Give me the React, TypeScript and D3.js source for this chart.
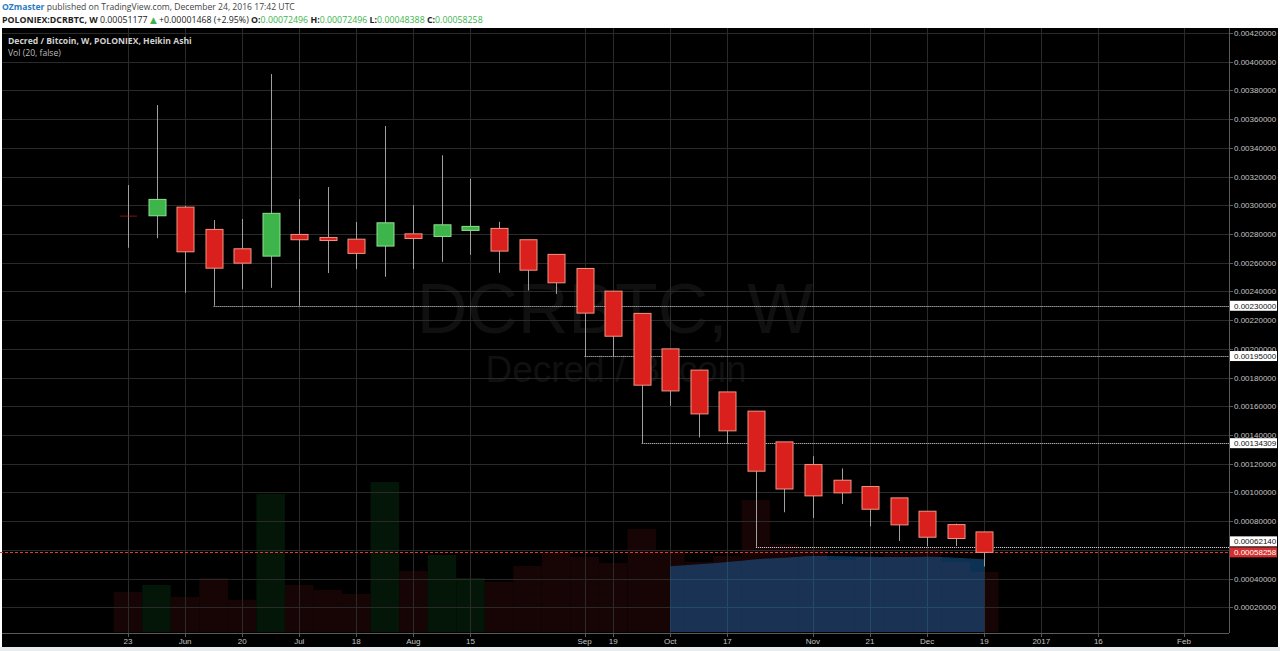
import * as d3 from "d3";

// Heikin Ashi weekly candles, DCR/BTC, week of May 23 2016 .. Dec 19 2016
const opens = [
  0.002927, 0.002927, 0.002987, 0.002832, 0.002697, 0.002646, 0.002797, 0.002776,
  0.002764, 0.002716, 0.002801, 0.002783, 0.002825, 0.002839, 0.00276, 0.002658,
  0.00256, 0.002402, 0.002247, 0.002, 0.001852, 0.0017, 0.001566, 0.001352,
  0.001194, 0.001085, 0.001041, 0.000962, 0.000869, 0.000776, 0.00072496,
];
const highs = [
  0.003141, 0.003698, 0.002997, 0.002897, 0.002904, 0.003914, 0.003043, 0.003127,
  0.002883, 0.003552, 0.003001, 0.003348, 0.003185, 0.002885, 0.00276, 0.002658,
  0.00256, 0.002402, 0.002247, 0.002, 0.001852, 0.0017, 0.001566, 0.001352,
  0.001252, 0.001167, 0.001041, 0.000962, 0.000869, 0.000783, 0.00072496,
];
const lows = [
  0.002704, 0.002771, 0.00239, 0.0023, 0.002416, 0.002425, 0.0023, 0.002528,
  0.002555, 0.002502, 0.002555, 0.002606, 0.002655, 0.00253, 0.002407, 0.002383,
  0.00195, 0.00195, 0.00134309, 0.001603, 0.001383, 0.001341, 0.0006214, 0.000862,
  0.000822, 0.00092, 0.000764, 0.000662, 0.000625, 0.000627, 0.00048388,
];
const closes = [
  0.002925, 0.003041, 0.002676, 0.002562, 0.002597, 0.002944, 0.00276, 0.002755,
  0.002665, 0.002878, 0.002769, 0.002864, 0.002853, 0.002681, 0.002548, 0.00246,
  0.002249, 0.002088, 0.001747, 0.001707, 0.001547, 0.001429, 0.001148, 0.001024,
  0.000976, 0.000997, 0.000883, 0.000774, 0.000688, 0.000679, 0.00058258,
];
const volumes = [
  40, 47, 35, 54, 32, 138, 47, 42, 38, 150, 61, 77, 54, 50, 66, 80,
  75, 69, 103, 82, 70, 76, 132, 88, 84, 72, 75, 78, 84, 70, 60,
];

const timeLabels = ["23", "Jun", "20", "Jul", "18", "Aug", "15", "Sep", "19", "Oct", "17", "Nov", "21", "Dec", "19", "2017", "16", "Feb"];
const timeLabelIdx = [0, 2, 4, 6, 8, 10, 12, 16, 17, 19, 21, 24, 26, 28, 30, 32, 34, 37];

// shaded area drawn on the chart (Oct 3 .. Dec 19)
const shadeIdx = [19, 20, 21, 22, 23, 24, 25, 26, 27, 28, 29, 30];
const shadeTop = [0.000486, 0.0005, 0.000515, 0.000535, 0.000545, 0.000558, 0.000556, 0.000552, 0.00055, 0.000552, 0.000545, 0.000535];

// horizontal support lines: price and the candle they start from
const levelValues = [0.0023, 0.00195, 0.00134309, 0.0006214];
const levelStart = [3, 16, 18, 22];

const lastPrice = 0.00058258;
const changeText = "+0.00001468 (+2.95%)";
const prevText = "0.00051177";

export default function App() {
  const W = 1280;
  const H = 651;
  const plot = { left: 2, top: 28, right: 1229, bottom: 633 };

  const x = d3.scaleLinear().domain([0, 37]).range([128, 1184]);
  const step = x(1) - x(0);
  const y = d3.scaleLinear().domain([0, 0.0042]).range([636, 33]);
  const vy = d3.scaleLinear().domain([0, 150]).range([632, 482]);
  const fmt = d3.format(".8f");

  const priceTicks = d3.range(1, 22).map((i) => +(i * 0.0002).toFixed(4));

  const shadeArea = d3
    .area<number>()
    .x((_, i) => x(shadeIdx[i]))
    .y0(plot.bottom - 1)
    .y1((d) => y(d))
    .curve(d3.curveMonotoneX);

  const last = opens.length - 1;
  const axisFont = "'Liberation Sans', Arial, sans-serif";
  const uiFont = "'Open Sans', 'DejaVu Sans', sans-serif";

  // right-axis highlight boxes, nudged apart when they collide
  const lastY = y(lastPrice);
  const boxes = levelValues.map((v) => {
    let cy = y(v);
    if (Math.abs(cy - lastY) < 11) cy = lastY - 11;
    return { v, cy };
  });

  return (
    <div style={{ position: "absolute", left: 0, top: 0 }}>
      <svg width={W} height={H} style={{ display: "block" }}>
        <rect width={W} height={H} fill="#ffffff" />
        <rect x={2} y={plot.top} width={1276} height={619} fill="#000000" />
        <rect x={0} y={647} width={W} height={4} fill="#e9ecef" />

        {/* header */}
        <text x={2} y={10} fontSize={8.6} fontFamily={uiFont}>
          <tspan fill="#2a7bc4" fontWeight="bold">OZmaster</tspan>
          <tspan fill="#444"> published on TradingView.com, December 24, 2016 17:42 UTC</tspan>
        </text>
        <text x={2} y={22.5} fontSize={8.8} fontFamily={uiFont} fill="#222">
          <tspan fontWeight="bold">POLONIEX:DCRBTC, W</tspan>
          <tspan> {prevText} </tspan>
          <tspan fill="#3cb44b">▲</tspan>
          <tspan> {changeText} </tspan>
          <tspan fontWeight="bold">O:</tspan>
          <tspan fill="#3cb44b">{fmt(opens[last])} </tspan>
          <tspan fontWeight="bold">H:</tspan>
          <tspan fill="#3cb44b">{fmt(highs[last])} </tspan>
          <tspan fontWeight="bold">L:</tspan>
          <tspan fill="#3cb44b">{fmt(lows[last])} </tspan>
          <tspan fontWeight="bold">C:</tspan>
          <tspan fill="#3cb44b">{fmt(closes[last])}</tspan>
        </text>

        {/* watermark */}
        <text x={615} y={333} fontSize={70} fontFamily={axisFont} textAnchor="middle" fill="#101010">
          DCRBTC, W
        </text>
        <text x={616} y={382} fontSize={37} fontFamily={axisFont} textAnchor="middle" fill="#101010">
          Decred / Bitcoin
        </text>

        {/* volume */}
        {volumes.map((v, i) => {
          const up = closes[i] >= opens[i];
          const x0 = x(i) - step / 2;
          const x1 = Math.min(x(i) + step / 2, plot.right);
          return (
            <rect
              key={"v" + i}
              x={x0}
              y={vy(v)}
              width={x1 - x0}
              height={vy(0) - vy(v)}
              fill={up ? "#031608" : "#170505"}
            />
          );
        })}

        {/* grid */}
        {priceTicks.map((t) => (
          <line key={"gh" + t} x1={plot.left} x2={plot.right} y1={Math.round(y(t)) + 0.5} y2={Math.round(y(t)) + 0.5} stroke="#2a2a2a" />
        ))}
        {timeLabelIdx.map((i) => (
          <line key={"gv" + i} x1={Math.round(x(i)) + 0.5} x2={Math.round(x(i)) + 0.5} y1={plot.top} y2={plot.bottom} stroke="#2a2a2a" />
        ))}

        {/* shaded area */}
        <path d={shadeArea(shadeTop) ?? ""} fill="#1f74c4" fillOpacity={0.42} />

        {/* support lines */}
        {levelValues.map((v, k) => (
          <line
            key={"lv" + k}
            x1={x(levelStart[k])}
            x2={plot.right}
            y1={Math.round(y(v)) + 0.5}
            y2={Math.round(y(v)) + 0.5}
            stroke="#e6e6e6"
            strokeDasharray="1,1"
          />
        ))}
        <line x1={0} x2={plot.right} y1={Math.round(lastY) + 0.5} y2={Math.round(lastY) + 0.5} stroke="#e53935" strokeDasharray="3,2" />

        {/* candles */}
        {opens.map((o, i) => {
          const c = closes[i];
          const up = c > o;
          const top = y(Math.max(o, c));
          const bot = y(Math.min(o, c));
          const cx = Math.round(x(i)) + 0.5;
          return (
            <g key={"c" + i}>
              <line x1={cx} x2={cx} y1={y(highs[i])} y2={y(lows[i])} stroke="#a0a0a0" />
              <rect
                x={cx - 8.5}
                y={top}
                width={17}
                height={Math.max(0.6, bot - top)}
                fill={up ? "#3db54a" : "#d9201c"}
                stroke={bot - top < 2 ? "none" : up ? "#8fe08f" : "#f39482"}
                strokeWidth={1}
              />
            </g>
          );
        })}

        {/* axes */}
        <line x1={plot.right + 0.5} x2={plot.right + 0.5} y1={plot.top} y2={plot.bottom} stroke="#5a5a5a" />
        <line x1={plot.left} x2={plot.right} y1={plot.bottom + 0.5} y2={plot.bottom + 0.5} stroke="#5a5a5a" />
        {priceTicks.map((t) => (
          <g key={"pt" + t}>
            <line x1={plot.right} x2={plot.right + 4} y1={Math.round(y(t)) + 0.5} y2={Math.round(y(t)) + 0.5} stroke="#5a5a5a" />
            <text x={1234} y={y(t) + 3} fontSize={8} fontFamily={axisFont} fill="#c4c4c4">
              {fmt(t)}
            </text>
          </g>
        ))}
        {timeLabelIdx.map((i, k) => (
          <g key={"tl" + i}>
            <line x1={Math.round(x(i)) + 0.5} x2={Math.round(x(i)) + 0.5} y1={plot.bottom} y2={plot.bottom + 4} stroke="#5a5a5a" />
            <text x={x(i)} y={644} fontSize={8} fontFamily={axisFont} textAnchor="middle" fill="#c4c4c4">
              {timeLabels[k]}
            </text>
          </g>
        ))}

        {/* highlighted axis values */}
        {boxes.map((b) => (
          <g key={"bx" + b.v}>
            <rect x={plot.right + 1} y={b.cy - 5} width={47} height={10} fill="#ffffff" />
            <text x={1234} y={b.cy + 3} fontSize={8} fontFamily={axisFont} fill="#111">
              {fmt(b.v)}
            </text>
          </g>
        ))}
        <rect x={plot.right + 1} y={lastY - 5} width={47} height={10} fill="#d32f2f" />
        <text x={1234} y={lastY + 3} fontSize={8} fontFamily={axisFont} fill="#ffffff">
          {fmt(lastPrice)}
        </text>

        {/* legend */}
        <text x={8} y={44} fontSize={8.6} fontFamily={uiFont} fontWeight="bold" fill="#d2d2d2">
          Decred / Bitcoin, W, POLONIEX, Heikin Ashi
        </text>
        <text x={8} y={56} fontSize={8.6} fontFamily={uiFont} fill="#bdbdbd">
          Vol (20, false)
        </text>
      </svg>
    </div>
  );
}
